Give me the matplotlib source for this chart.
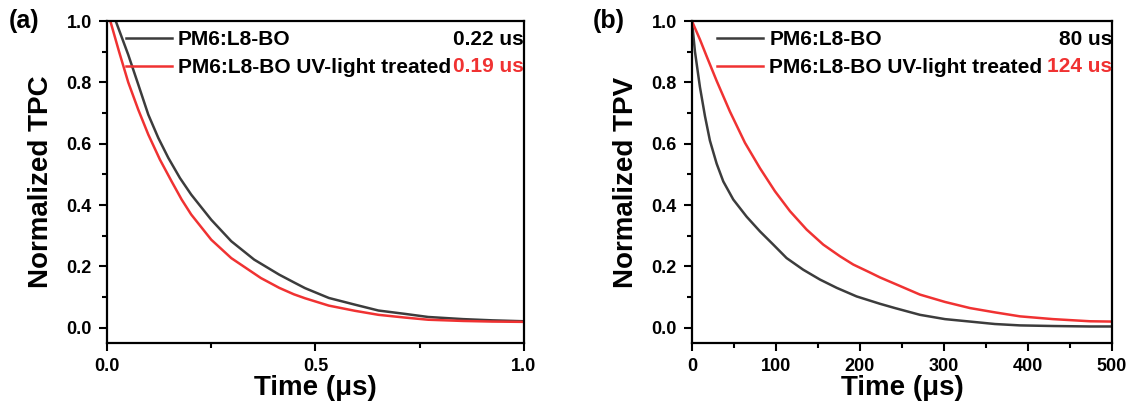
import matplotlib
matplotlib.use("Agg")
import matplotlib.pyplot as plt
from matplotlib.ticker import MultipleLocator

plt.rcParams['font.family'] = ['Liberation Sans', 'DejaVu Sans']
plt.rcParams['font.weight'] = 'bold'

# (a) TPC, time in us
tpc_t_ref = [0.021, 0.051, 0.075, 0.099, 0.123, 0.147, 0.175, 0.202, 0.25, 0.298,
             0.353, 0.413, 0.448, 0.475, 0.532, 0.595, 0.651, 0.715, 0.77, 0.854,
             0.924, 1.0]
tpc_y_ref = [1.0, 0.89, 0.793, 0.695, 0.619, 0.554, 0.488, 0.434, 0.352, 0.282,
             0.222, 0.173, 0.148, 0.129, 0.097, 0.075, 0.056, 0.045, 0.035, 0.028,
             0.024, 0.021]
tpc_t_uv = [0.008, 0.029, 0.051, 0.075, 0.099, 0.127, 0.155, 0.179, 0.202, 0.25,
            0.298, 0.369, 0.413, 0.448, 0.475, 0.532, 0.595, 0.651, 0.715, 0.77,
            0.854, 0.924, 1.0]
tpc_y_uv = [1.0, 0.90, 0.80, 0.711, 0.63, 0.548, 0.477, 0.418, 0.369, 0.287,
            0.227, 0.162, 0.13, 0.109, 0.096, 0.072, 0.055, 0.042, 0.033, 0.026,
            0.022, 0.02, 0.019]

# (b) TPV, time in us
tpv_t_ref = [0, 3.6, 9.5, 15.5, 21.4, 29.4, 37.3, 49.2, 65.1, 81, 96.8, 112.7,
             132.5, 152.4, 172.3, 196, 223.8, 241.7, 271.4, 301.2, 331,
             360.7, 390.5, 429.8, 473.8, 500]
tpv_y_ref = [1.0, 0.90, 0.785, 0.69, 0.61, 0.535, 0.477, 0.418, 0.362, 0.314,
             0.271, 0.227, 0.189, 0.157, 0.13, 0.102, 0.078, 0.064, 0.042,
             0.028, 0.02, 0.012, 0.0075, 0.0055, 0.004, 0.004]
tpv_t_uv = [0, 9.5, 17.5, 29.4, 45.2, 63.1, 81, 98.8, 116.7, 136.5, 156.3, 176.2,
            192, 211.9, 223.8, 241.7, 271.4, 301.2, 331, 360.7, 390.5, 429.8,
            473.8, 500]
tpv_y_uv = [1.0, 0.94, 0.885, 0.805, 0.705, 0.603, 0.52, 0.445, 0.38, 0.32, 0.271,
            0.233, 0.206, 0.18, 0.164, 0.143, 0.108, 0.084, 0.064, 0.05, 0.037,
            0.028, 0.021, 0.02]

labels = ['PM6:L8-BO', 'PM6:L8-BO UV-light treated']
tpc_tau = ['0.22 us', '0.19 us']
tpv_tau = ['80 us', '124 us']

c_ref = '#3c3c3c'
c_uv = '#f03232'

fig = plt.figure(figsize=(11.31, 4.05), dpi=100)
ax1 = fig.add_axes([0.0946, 0.153, 0.3687, 0.795])
ax2 = fig.add_axes([0.6118, 0.153, 0.3714, 0.795])


def style(ax, xlim, xmaj, xmin, ylab, tag):
    ax.set_xlim(*xlim)
    ax.set_ylim(-0.05, 1.0)
    ax.xaxis.set_major_locator(MultipleLocator(xmaj))
    ax.xaxis.set_minor_locator(MultipleLocator(xmin))
    ax.yaxis.set_major_locator(MultipleLocator(0.2))
    ax.yaxis.set_minor_locator(MultipleLocator(0.1))
    ax.tick_params(which='major', direction='out', length=6, width=1.5,
                   labelsize=13, pad=5)
    ax.tick_params(which='minor', direction='out', length=3.5, width=1.5)
    for s in ax.spines.values():
        s.set_linewidth(1.6)
    for lab in ax.get_xticklabels() + ax.get_yticklabels():
        lab.set_fontweight('bold')
    ax.set_xlabel('Time (μs)', fontsize=20, fontweight='bold', labelpad=0)
    ax.set_ylabel(ylab, fontsize=20, fontweight='bold', labelpad=9)
    ax.text(-0.235, 1.0, tag, transform=ax.transAxes, fontsize=18,
            fontweight='bold', va='center', ha='left')


ax1.plot(tpc_t_ref, tpc_y_ref, color=c_ref, lw=1.8, label=labels[0])
ax1.plot(tpc_t_uv, tpc_y_uv, color=c_uv, lw=1.8, label=labels[1])
style(ax1, (0, 1.0), 0.5, 0.25, 'Normalized TPC', '(a)')

ax2.plot(tpv_t_ref, tpv_y_ref, color=c_ref, lw=1.8, label=labels[0])
ax2.plot(tpv_t_uv, tpv_y_uv, color=c_uv, lw=1.8, label=labels[1])
style(ax2, (0, 500), 100, 50, 'Normalized TPV', '(b)')

for ax, taus, x0 in [(ax1, tpc_tau, 0.045), (ax2, tpv_tau, 0.06)]:
    ax.legend(loc='upper left', bbox_to_anchor=(x0, 0.972), frameon=False,
              handlelength=2.2, handletextpad=0.3,
              borderaxespad=0, borderpad=0, labelspacing=0.45,
              prop={'weight': 'bold', 'size': 15})
    ax.text(1.0, 0.944, taus[0], transform=ax.transAxes, ha='right',
            va='center', fontsize=15, fontweight='bold', color='black')
    ax.text(1.0, 0.86, taus[1], transform=ax.transAxes, ha='right',
            va='center', fontsize=15, fontweight='bold', color=c_uv)

fig.savefig('out.png', dpi=100)
